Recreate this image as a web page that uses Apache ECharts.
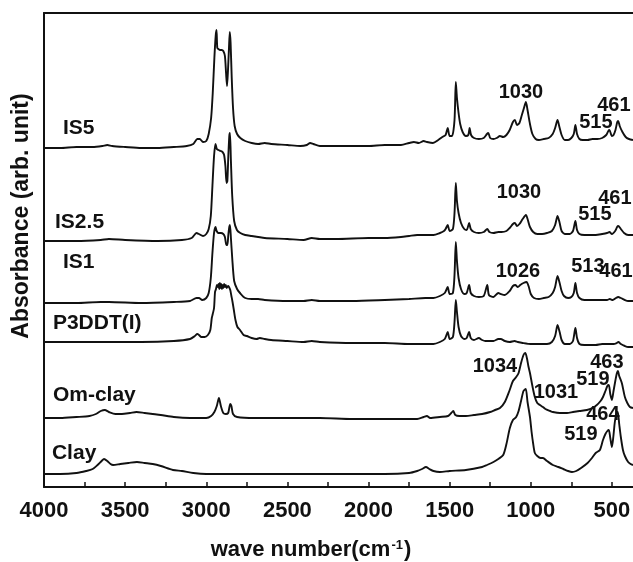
<!DOCTYPE html>
<html>
<head>
<meta charset="utf-8">
<script src="https://cdn.jsdelivr.net/npm/echarts@6/dist/echarts.min.js"></script>
<style>
  html, body { margin: 0; padding: 0; background: #fff; }
  #chart { width: 633px; height: 562px; }
</style>
</head>
<body>
<div id="chart"></div>
<script>
// FTIR spectra, stacked with a vertical offset per sample (arb. units)
const sampleNames = ['IS5', 'IS2.5', 'IS1', 'P3DDT(I)', 'Om-clay', 'Clay'];
const baselineOffsets = [339, 246, 184, 145, 69, 13];

// [wave number (cm-1), absorbance above the sample's own baseline]
const is5 = [[4000,0],[3900,0],[3800,1],[3700,1],[3640,2],[3610,3],[3580,2],[3500,1],[3400,0],[3300,0],[3200,1],[3120,2],[3080,4],[3055,9],[3040,9],[3020,6],[3000,7],[2985,14],[2970,30],[2960,55],[2950,90],[2942,112],[2937,118],[2932,100],[2925,99],[2915,98],[2905,98],[2895,97],[2885,92],[2878,75],[2872,62],[2866,78],[2860,100],[2855,116],[2850,105],[2843,70],[2835,40],[2825,22],[2810,14],[2790,10],[2760,7],[2720,5],[2680,4],[2640,5],[2600,4],[2500,3],[2420,2],[2380,3],[2360,5],[2340,4],[2300,2],[2200,2],[2100,2],[2000,2],[1900,3],[1800,3],[1750,5],[1720,6],[1690,5],[1660,7],[1640,6],[1603,5],[1570,8],[1545,11],[1525,13],[1512,20],[1500,12],[1485,12],[1470,28],[1462,66],[1455,50],[1445,35],[1435,24],[1420,16],[1400,12],[1385,13],[1377,20],[1368,13],[1350,10],[1320,9],[1290,10],[1270,14],[1262,15],[1250,10],[1230,9],[1210,10],[1190,12],[1170,11],[1150,13],[1130,18],[1110,26],[1098,28],[1085,23],[1070,25],[1055,33],[1042,40],[1030,46],[1020,38],[1005,24],[990,14],[970,9],[950,8],[920,9],[890,10],[865,14],[850,20],[835,28],[825,22],[810,13],[790,8],[770,8],[750,10],[735,14],[725,23],[715,14],[700,9],[680,8],[650,8],[620,9],[590,9],[560,10],[535,13],[522,17],[515,18],[500,12],[490,13],[478,18],[467,26],[461,27],[452,22],[435,16],[415,11],[395,9],[370,8]];

const is25 = [[4000,0],[3800,0],[3650,1],[3600,2],[3500,1],[3300,0],[3150,1],[3090,3],[3060,8],[3045,7],[3020,5],[3000,7],[2985,12],[2972,25],[2962,55],[2952,85],[2943,97],[2935,92],[2925,91],[2912,90],[2900,89],[2890,86],[2882,75],[2875,58],[2870,60],[2864,85],[2858,105],[2854,108],[2848,80],[2840,45],[2828,20],[2811,11],[2790,8],[2760,6],[2720,5],[2680,4],[2640,3],[2500,2],[2400,1],[2350,3],[2300,2],[2200,2],[2000,3],[1900,3],[1800,4],[1750,5],[1700,6],[1650,6],[1600,6],[1560,8],[1535,10],[1525,12],[1512,16],[1500,10],[1480,12],[1470,28],[1462,58],[1455,40],[1445,28],[1430,18],[1410,12],[1395,11],[1380,18],[1370,12],[1350,9],[1320,8],[1290,9],[1268,12],[1255,9],[1230,8],[1200,9],[1180,9],[1150,10],[1130,13],[1110,17],[1098,18],[1085,15],[1070,17],[1050,22],[1030,26],[1018,21],[1005,14],[985,9],[960,7],[930,7],[900,8],[870,10],[850,16],[835,25],[822,18],[810,10],[790,7],[760,7],[740,10],[725,20],[715,11],[700,7],[670,6],[640,6],[600,6],[560,7],[530,8],[515,9],[500,7],[480,10],[468,14],[461,15],[445,12],[425,8],[400,6],[370,6]];

const is1 = [[4000,0],[3800,0],[3650,1],[3600,1],[3400,0],[3200,1],[3100,2],[3060,5],[3045,5],[3025,3],[3000,5],[2985,10],[2972,25],[2962,50],[2952,70],[2943,76],[2936,72],[2925,70],[2910,70],[2895,69],[2885,66],[2876,58],[2870,58],[2864,68],[2858,76],[2854,78],[2848,65],[2840,45],[2828,22],[2810,14],[2792,10],[2760,5],[2720,4],[2680,4],[2640,3],[2500,2],[2400,2],[2350,3],[2300,2],[2100,2],[1900,3],[1750,4],[1650,5],[1600,5],[1560,7],[1530,10],[1512,16],[1500,9],[1480,10],[1470,28],[1462,61],[1455,42],[1445,25],[1430,14],[1410,9],[1395,10],[1380,18],[1370,10],[1350,7],[1320,6],[1290,7],[1268,18],[1258,8],[1230,6],[1200,10],[1185,9],[1160,8],[1130,12],[1110,17],[1095,18],[1080,16],[1065,18],[1045,20],[1026,21],[1012,16],[1000,9],[980,5],[950,4],[920,5],[890,6],[865,10],[850,16],[835,27],[822,20],[810,12],[795,7],[770,5],[750,6],[735,10],[725,20],[715,10],[700,5],[670,3],[640,3],[600,3],[560,3],[530,3],[513,4],[495,3],[475,5],[461,6],[445,5],[420,3],[400,2],[370,2]];

const p3ddt = [[4000,0],[3800,0],[3600,0],[3400,0],[3200,1],[3100,3],[3070,6],[3055,8],[3045,7],[3030,5],[3010,5],[2990,7],[2975,12],[2966,24],[2960,28],[2952,34],[2946,50],[2940,53],[2934,57],[2928,55],[2924,58],[2920,53],[2916,59],[2912,54],[2908,58],[2904,53],[2900,57],[2895,54],[2890,58],[2885,55],[2880,57],[2874,54],[2866,56],[2860,55],[2852,52],[2845,46],[2838,40],[2830,32],[2820,22],[2808,15],[2792,12],[2770,7],[2750,6],[2720,4],[2690,3],[2670,4],[2640,3],[2600,2],[2500,1],[2400,0],[2350,1],[2300,0],[2100,-1],[1900,-1],[1750,-2],[1650,-2],[1600,-2],[1560,0],[1530,3],[1512,10],[1500,3],[1480,5],[1470,20],[1462,42],[1455,30],[1445,15],[1430,6],[1410,3],[1395,4],[1380,10],[1370,4],[1350,2],[1320,4],[1300,2],[1280,1],[1260,1],[1230,1],[1200,3],[1185,3],[1160,1],[1130,0],[1100,1],[1080,0],[1050,-1],[1000,-2],[950,-2],[900,-2],[870,0],[850,6],[835,17],[822,10],[810,2],[790,-2],[760,-2],[740,1],[725,14],[715,4],[700,-2],[670,-3],[640,-3],[600,-3],[560,-2],[520,-2],[490,-2],[470,-1],[460,0],[445,-2],[420,-4],[400,-5],[370,-5]];

const omClay = [[4000,0],[3900,0],[3800,1],[3720,2],[3680,4],[3650,7],[3625,8],[3600,6],[3560,4],[3520,4],[3470,5],[3430,6],[3380,5],[3330,4],[3280,3],[3200,1],[3100,0],[3000,0],[2970,2],[2950,6],[2935,12],[2922,20],[2910,12],[2895,5],[2880,4],[2865,5],[2852,14],[2845,12],[2835,4],[2810,1],[2700,0],[2500,0],[2300,0],[2100,-1],[1900,-1],[1700,-1],[1660,1],[1640,2],[1620,0],[1560,1],[1510,2],[1490,5],[1478,7],[1465,3],[1440,2],[1400,2],[1350,3],[1300,4],[1250,6],[1220,8],[1190,10],[1160,16],[1130,28],[1110,37],[1090,41],[1075,45],[1060,55],[1045,63],[1034,65],[1024,60],[1015,52],[1005,45],[990,32],[975,21],[960,15],[944,13],[925,11],[910,9],[880,7],[864,6],[820,5],[777,5],[740,6],[700,7],[654,8],[620,10],[593,13],[570,17],[555,21],[540,27],[528,32],[519,33],[510,24],[500,18],[490,27],[478,38],[469,45],[463,47],[455,42],[439,35],[420,21],[405,15],[389,11],[370,10]];

const clay = [[4000,0],[3900,0],[3800,1],[3740,3],[3700,5],[3670,9],[3645,13],[3630,15],[3610,13],[3590,10],[3574,9],[3530,10],[3480,11],[3427,12],[3380,11],[3330,10],[3280,8],[3205,4],[3150,3],[3080,1],[3000,0],[2900,0],[2700,0],[2500,0],[2300,0],[2100,0],[1900,0],[1750,1],[1700,3],[1670,5],[1646,7],[1625,5],[1600,3],[1560,2],[1500,3],[1400,4],[1300,7],[1270,9],[1230,12],[1200,15],[1170,19],[1150,30],[1129,46],[1110,54],[1090,57],[1075,63],[1060,73],[1045,83],[1031,85],[1020,72],[1005,57],[995,42],[985,30],[975,21],[960,18],[940,16],[925,16],[900,13],[864,9],[830,7],[800,5],[770,3],[746,2],[720,3],[690,6],[650,11],[623,16],[600,21],[574,24],[555,34],[540,40],[528,43],[519,44],[510,36],[500,27],[492,36],[482,52],[472,61],[464,62],[455,50],[445,37],[432,24],[420,18],[400,12],[385,10],[370,9]];

const spectra = [is5, is25, is1, p3ddt, omClay, clay];

// sample name tags: [left wave number, height]
const nameTagPos = [[3883,359],[3932,265],[3883,225],[3945,164],[3945,92],[3951,34]];

// band assignments written over the peaks: [text, wave number, height]
const bandTags = [
  ['1030',1061,395],['515',599,365],['461',488,382],
  ['1030',1073,295],['515',605,273],['461',482,289],
  ['1026',1079,216],['513',648,221],['461',475,216],
  ['1034',1221,121],['1031',845,95],['519',617,108],['463',531,125],
  ['519',691,53],['464',556,73]
];

const majorTicks = [4000,3500,3000,2500,2000,1500,1000,500];
const minorTicks = [4000,3750,3500,3250,3000,2750,2500,2250,2000,1750,1500,1250,1000,750,500];

const FONT = "'Liberation Sans', Arial, Helvetica, sans-serif";
const INK = '#111111';

const chart = echarts.init(document.getElementById('chart'), null, { renderer: 'canvas' });

const curveSeries = spectra.map((pts, i) => ({
  type: 'line',
  name: sampleNames[i],
  data: pts.map(p => [p[0], p[1] + baselineOffsets[i]]),
  showSymbol: false,
  symbol: 'none',
  smooth: 0.25,
  lineStyle: { color: INK, width: 1.9 },
  z: 3,
  silent: true
}));

function tagSeries(items, size, align) {
  return {
    type: 'scatter',
    symbolSize: 0,
    silent: true,
    z: 5,
    itemStyle: { opacity: 1 },
    data: items.map(it => ({
      value: it.pos,
      itemStyle: { opacity: 1 },
      label: {
        show: true, formatter: it.text, position: 'inside', align: align, verticalAlign: 'middle',
        fontFamily: FONT, fontWeight: 'bold', fontSize: size, color: INK, opacity: 1
      }
    }))
  };
}

const nameSeries = tagSeries(sampleNames.map((n, i) => ({ text: n, pos: nameTagPos[i] })), 21, 'left');
const bandSeries = tagSeries(bandTags.map(t => ({ text: t[0], pos: [t[1], t[2]] })), 20, 'center');

chart.setOption({
  animation: false,
  backgroundColor: '#fff',
  grid: { left: 44, right: 0, top: 13, bottom: 75, containLabel: false, outerBoundsMode: 'none' },
  xAxis: [
    {
      type: 'value', inverse: true, min: 370, max: 4000,
      position: 'bottom',
      axisLine: { show: true, onZero: false, lineStyle: { color: '#111', width: 2 } },
      axisTick: { show: true, inside: true, length: 5, customValues: minorTicks, lineStyle: { color: '#111', width: 1.5 } },
      axisLabel: {
        show: true, customValues: majorTicks, margin: 13,
        formatter: v => String(v),
        fontFamily: FONT, fontWeight: 'bold', fontSize: 22, color: INK
      },
      splitLine: { show: false }
    },
    {
      type: 'value', inverse: true, min: 370, max: 4000,
      position: 'top',
      axisLine: { show: true, onZero: false, lineStyle: { color: '#111', width: 2 } },
      axisTick: { show: false }, axisLabel: { show: false }, splitLine: { show: false }
    }
  ],
  yAxis: {
    type: 'value', min: 0, max: 474,
    axisLine: { show: true, onZero: false, lineStyle: { color: '#111', width: 2 } },
    axisTick: { show: false }, axisLabel: { show: false }, splitLine: { show: false }
  },
  graphic: [
    {
      type: 'text', x: 22, y: 216, rotation: Math.PI / 2,
      style: {
        text: 'Absorbance (arb. unit)', fill: INK,
        font: "bold 23px 'Liberation Sans', Arial, sans-serif",
        align: 'center', verticalAlign: 'middle'
      }
    },
    {
      type: 'text', x: 311, y: 550,
      style: {
        text: 'wave number(cm{sup|-1})',
        fill: INK,
        font: "bold 22px 'Liberation Sans', Arial, sans-serif",
        align: 'center', verticalAlign: 'middle',
        rich: {
          sup: { fontSize: 13, fontWeight: 'bold', fontFamily: FONT, fill: INK, verticalAlign: 'top', padding: [0, 1, 10, 1] }
        }
      }
    }
  ],
  series: curveSeries.concat([nameSeries, bandSeries])
});
</script>
</body>
</html>
